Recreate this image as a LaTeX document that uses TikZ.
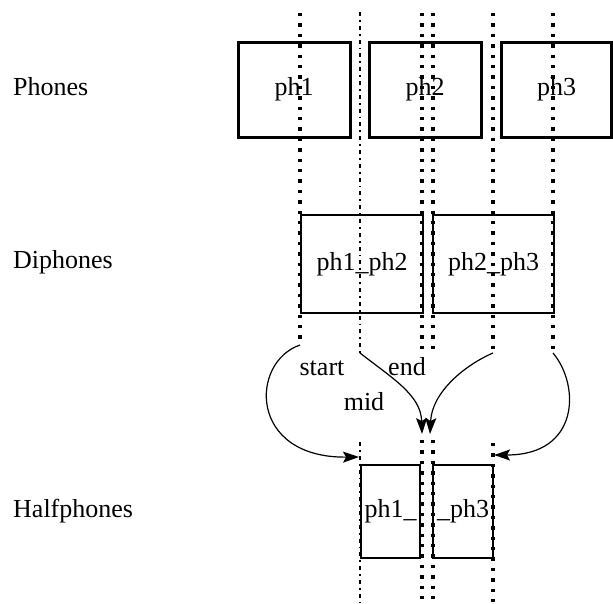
\documentclass[tikz,border=0pt]{standalone}
\usepackage{fontspec}
\setmainfont{Liberation Serif}
\usetikzlibrary{arrows.meta}
\begin{document}
\begin{tikzpicture}[x=1pt,y=-1pt,
  lbl/.style={font=\fontsize{26}{30}\selectfont, inner sep=0pt},
  phonebox/.style={draw, line width=3pt, minimum width=112pt, minimum height=95pt, inner sep=0pt, font=\fontsize{26}{30}\selectfont},
  diphbox/.style={draw, line width=1.8pt, minimum width=122pt, minimum height=98pt, inner sep=0pt, font=\fontsize{26}{30}\selectfont},
  halfbox/.style={draw, line width=2.4pt, minimum width=59pt, minimum height=93pt, inner sep=0pt, font=\fontsize{26}{30}\selectfont},
  thickdots/.style={line width=3.4pt, dash pattern=on 3.4pt off 7pt},
  thindashdot/.style={line width=1.8pt, dash pattern=on 4pt off 4pt on 1.8pt off 4pt},
  linkcurve/.style={line width=1.2pt, -{Stealth[length=16pt,width=11pt,inset=3pt]}}
]
\useasboundingbox (0,0) rectangle (613,603);

% row labels
\node[lbl, anchor=base west] (phones) at (13,95) {Phones};
\node[lbl, anchor=base west] (diphones) at (13,268) {Diphones};
\node[lbl, anchor=base west] (halfphones) at (13,517) {Halfphones};

% phone boxes
\node[phonebox] (p1) at (294,89.5) {ph1};
\node[phonebox] (p2) at (425,89.5) {ph2};
\node[phonebox, minimum width=110pt] (p3) at (556.5,89.5) {ph3};

% diphone boxes
\node[diphbox] (d1) at (362,264) {ph1\_ph2};
\node[diphbox, minimum width=121pt] (d2) at (493.5,264) {ph2\_ph3};

% halfphone boxes
\node[halfbox] (h1) at (390.5,511.5) {ph1\_};
\node[halfbox, minimum width=60pt] (h2) at (463,511.5) {\_ph3};

% vertical line end points
\coordinate (a1) at (300,13);  \coordinate (b1) at (300,345);
\coordinate (a2) at (360,12);  \coordinate (b2) at (360,353);
\coordinate (c2) at (360,442); \coordinate (e2) at (360,603);
\coordinate (a3) at (422,13);  \coordinate (b3) at (422,355);
\coordinate (c3) at (422,440); \coordinate (e3) at (422,603);
\coordinate (a4) at (433,13);  \coordinate (b4) at (433,355);
\coordinate (c4) at (433,440); \coordinate (e4) at (433,603);
\coordinate (a5) at (493,13);  \coordinate (b5) at (493,353);
\coordinate (c5) at (493,443); \coordinate (e5) at (493,603);
\coordinate (a6) at (553,13);  \coordinate (b6) at (553,353);

\draw[thickdots] (a1) -- (b1);
\draw[thindashdot] (a2) -- (b2);
\draw[thindashdot] (c2) -- (e2);
\draw[thickdots] (a3) -- (b3);
\draw[thickdots] (c3) -- (e3);
\draw[thickdots] (a4) -- (b4);
\draw[thickdots] (c4) -- (e4);
\draw[thickdots] (a5) -- (b5);
\draw[thickdots] (c5) -- (e5);
\draw[thickdots] (a6) -- (b6);

% arrow targets
\coordinate (t1) at (359,457);
\coordinate (t2) at (422,434);
\coordinate (t3) at (430,434);
\coordinate (t4) at (494,455);

\draw[linkcurve] (b1) .. controls (250,362) and (248,458) .. (t1);
\draw[linkcurve] (b2) .. controls (392,378) and (421,395) .. (t2);
\draw[linkcurve] (b5) .. controls (465,365) and (432,392) .. (t3);
\draw[linkcurve] (b6) .. controls (580,385) and (580,455) .. (t4);

% curve labels
\node[lbl] (start) at (322,368) {start};
\node[lbl] (endl) at (407,367) {end};
\node[lbl] (mid) at (364,402) {mid};
\end{tikzpicture}
\end{document}
